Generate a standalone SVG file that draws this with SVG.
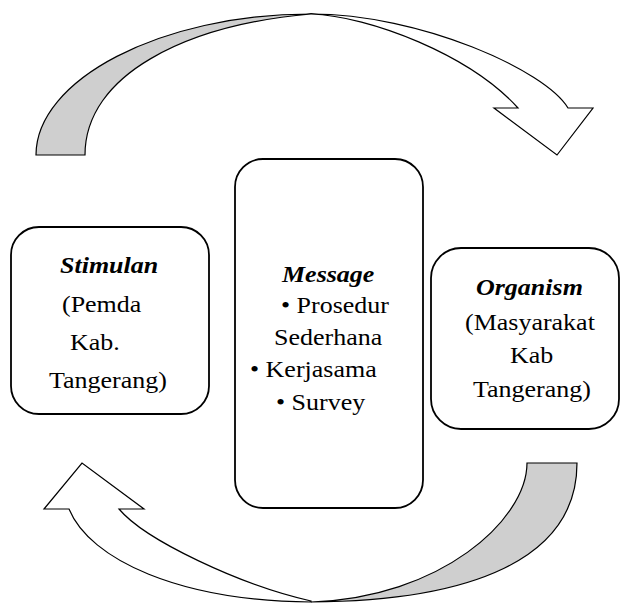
<svg xmlns="http://www.w3.org/2000/svg" width="621" height="603" viewBox="0 0 621 603">
<style>
.box{fill:#fff;stroke:#000;stroke-width:1.8}
.band{fill:#cfcfcf;stroke:#000;stroke-width:1.2;stroke-linejoin:miter}
.front{fill:#fff;stroke:#000;stroke-width:1.2;stroke-linejoin:miter}
text{font-family:"Liberation Serif","Times New Roman",serif;font-size:26px;fill:#000}
.t{font-weight:bold;font-style:italic}
</style>
<rect width="621" height="603" fill="#fff"/>
<g id="connectors">
  <g id="arrow-top">
    <path class="band" d="M36,155 C36,80 160,14 311,14 C185,25 85,75 85,155 Z"/>
    <path class="front" d="M311,14 C420,14 545,70 568,108 L593,108 L557,155 L494,108 L518,108 C470,55 370,16 311,14 Z"/>
  </g>
  <g id="arrow-bottom">
    <path class="band" d="M577,463 C577,560 470,601 311,602 C440,598 527,520 527,463 Z"/>
    <path class="front" d="M311,602 C180,601 90,560 69,509 L44,509 L82,463 L144,509 L119,509 C145,540 240,585 311,601 Z"/>
  </g>
</g>
<g id="stimulan">
  <rect class="box" x="11" y="227" width="198" height="187" rx="28" ry="28"/>
  <g transform="scale(1 0.9)">
    <text class="t" x="60" y="303.3">Stimulan</text>
    <text x="62" y="346.7">(Pemda</text>
    <text x="70" y="388.9">Kab.</text>
    <text x="49" y="431.1">Tangerang)</text>
  </g>
</g>
<g id="message">
  <rect class="box" x="235" y="159" width="188" height="349" rx="28" ry="28"/>
  <g transform="scale(1 0.9)">
    <text class="t" x="282" y="313.3">Message</text>
    <text x="281" y="347.8">• Prosedur</text>
    <text x="274" y="383.3">Sederhana</text>
    <text x="250" y="418.9">• Kerjasama</text>
    <text x="276" y="455.6">• Survey</text>
  </g>
</g>
<g id="organism">
  <rect class="box" x="431" y="248" width="188" height="181" rx="30" ry="30"/>
  <g transform="scale(1 0.9)">
    <text class="t" x="476" y="327.8">Organism</text>
    <text x="465" y="366.7">(Masyarakat</text>
    <text x="510" y="403.3">Kab</text>
    <text x="473" y="441.1">Tangerang)</text>
  </g>
</g>
</svg>
